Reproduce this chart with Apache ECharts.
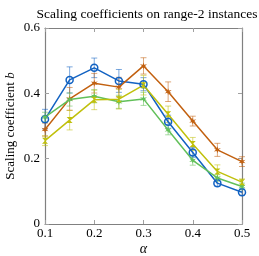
<!DOCTYPE html>
<html><head><meta charset="utf-8">
<script src="https://cdn.jsdelivr.net/npm/echarts@6/dist/echarts.min.js"></script>
<style>html,body{margin:0;padding:0;background:#fff}#c{width:259px;height:256px}</style>
</head><body><div id="c"></div>
<script>
const alphas = [0.1, 0.15, 0.2, 0.25, 0.3, 0.35, 0.4, 0.45, 0.5];
const blueVals = [0.321, 0.441, 0.478, 0.438, 0.428, 0.313, 0.219, 0.125, 0.097];
const blueErr  = [0.03, 0.04, 0.03, 0.035, 0.02, 0.02, 0.015, 0.01, 0.01];
const orangeVals = [0.289, 0.383, 0.431, 0.419, 0.484, 0.405, 0.315, 0.227, 0.191];
const orangeErr  = [0.02, 0.035, 0.03, 0.03, 0.025, 0.03, 0.015, 0.02, 0.015];
const greenVals = [0.327, 0.381, 0.391, 0.374, 0.383, 0.288, 0.195, 0.141, 0.115];
const greenErr  = [0.015, 0.02, 0.02, 0.02, 0.02, 0.015, 0.015, 0.01, 0.01];
const yellowVals = [0.255, 0.318, 0.380, 0.382, 0.425, 0.336, 0.245, 0.161, 0.128];
const yellowErr  = [0.015, 0.03, 0.03, 0.03, 0.03, 0.025, 0.02, 0.02, 0.01];
const xTicks = [0.1, 0.2, 0.3, 0.4, 0.5];
const yTicks = [0, 0.2, 0.4, 0.6];

const serif = '"Liberation Serif", "DejaVu Serif", serif';
const star = 'path://M5,0 L5.9,3.44 L9.33,2.5 L6.8,5 L9.33,7.5 L5.9,6.56 L5,10 L4.1,6.56 L0.67,7.5 L3.2,5 L0.67,2.5 L4.1,3.44 Z';
const hourglass = 'path://M0,0 L10,0 L5,5 L10,10 L0,10 L5,5 Z';

const defs = [
  {name:'blue', vals: blueVals, err: blueErr, color:'#1262c2', symbol:'circle', size:7, hollow:true},
  {name:'orange', vals: orangeVals, err: orangeErr, color:'#c2600f', symbol:star, size:7},
  {name:'green', vals: greenVals, err: greenErr, color:'#62c05a', symbol:star, size:7},
  {name:'yellow', vals: yellowVals, err: yellowErr, color:'#c0c00c', symbol:hourglass, size:6}
];

function errSeries(d){
  return {
    type:'custom', z:1, silent:true,
    data: alphas.map((a,i)=>[a, d.vals[i]-d.err[i], d.vals[i]+d.err[i]]),
    renderItem: function(params, api){
      const lo = api.coord([api.value(0), api.value(1)]);
      const hi = api.coord([api.value(0), api.value(2)]);
      const w = 3;
      const st = {stroke: d.color, lineWidth: 1, opacity: 0.55};
      return {type:'group', children:[
        {type:'line', shape:{x1:lo[0], y1:lo[1], x2:hi[0], y2:hi[1]}, style:st},
        {type:'line', shape:{x1:lo[0]-w, y1:lo[1], x2:lo[0]+w, y2:lo[1]}, style:st},
        {type:'line', shape:{x1:hi[0]-w, y1:hi[1], x2:hi[0]+w, y2:hi[1]}, style:st}
      ]};
    }
  };
}
function lineSeries(d){
  return {
    type:'line', z:2, name:d.name,
    data: alphas.map((a,i)=>[a, d.vals[i]]),
    symbol: d.symbol, symbolSize: d.size, showAllSymbol:true,
    lineStyle:{color:d.color, width:1.5},
    itemStyle: d.hollow ? {color:'rgba(255,255,255,0)', borderColor:d.color, borderWidth:1.5} : {color:d.color, borderWidth:0},
    animation:false
  };
}
const series = [];
defs.forEach(d=>series.push(errSeries(d)));
defs.forEach(d=>series.push(lineSeries(d)));

const axisLineCol = '#808080';
const tickCol = '#a0a0a0';
const chart = echarts.init(document.getElementById('c'), null, {renderer:'canvas'});
chart.setOption({
  animation:false,
  title:{text:'Scaling coefficients on range-2 instances', left:142, textAlign:'center', top:2,
    textStyle:{fontFamily:serif, fontSize:13.5, fontWeight:'normal', color:'#000'}},
  grid:{left:45, right:17, top:28, bottom:32, containLabel:false, outerBoundsMode:'none'},
  xAxis:[
    {type:'value', min:0.1, max:0.5, interval:0.1, position:'bottom',
     name:'{i|α}', nameLocation:'middle', nameGap:18, nameMoveOverlap:false,
     nameTextStyle:{rich:{i:{fontFamily:serif, fontStyle:'italic', fontSize:14, color:'#000'}}},
     axisLine:{show:true, onZero:false, lineStyle:{color:axisLineCol, width:1.2}},
     axisTick:{show:true, inside:true, length:4, lineStyle:{color:tickCol}},
     axisLabel:{fontFamily:serif, fontSize:13, color:'#000', margin:3,
       formatter:v=>xTicks.some(t=>Math.abs(t-v)<1e-9)? String(Math.round(v*10)/10):''},
     splitLine:{show:false}},
    {type:'value', min:0.1, max:0.5, interval:0.1, position:'top',
     axisLine:{show:true, onZero:false, lineStyle:{color:axisLineCol, width:1.2}},
     axisTick:{show:true, inside:true, length:4, lineStyle:{color:tickCol}},
     axisLabel:{show:false}, splitLine:{show:false}}
  ],
  yAxis:[
    {type:'value', min:0, max:0.6, interval:0.2, position:'left',
     name:'Scaling coefficient {i|b}', nameLocation:'middle', nameGap:28, nameRotate:90, nameMoveOverlap:false,
     nameTextStyle:{fontFamily:serif, fontSize:13, color:'#000', rich:{i:{fontFamily:serif, fontStyle:'italic', fontSize:13, color:'#000'}}},
     axisLine:{show:true, onZero:false, lineStyle:{color:axisLineCol, width:1.2}},
     axisTick:{show:true, inside:true, length:4, lineStyle:{color:tickCol}},
     axisLabel:{fontFamily:serif, fontSize:13, color:'#000', margin:5,
       formatter:v=>{ if(!yTicks.some(t=>Math.abs(t-v)<1e-9)) return ''; return v===0?'0':String(Math.round(v*10)/10);} },
     splitLine:{show:false}},
    {type:'value', min:0, max:0.6, interval:0.2, position:'right',
     axisLine:{show:true, onZero:false, lineStyle:{color:axisLineCol, width:1.2}},
     axisTick:{show:true, inside:true, length:4, lineStyle:{color:tickCol}},
     axisLabel:{show:false}, splitLine:{show:false}}
  ],
  series: series
});
</script></body></html>
